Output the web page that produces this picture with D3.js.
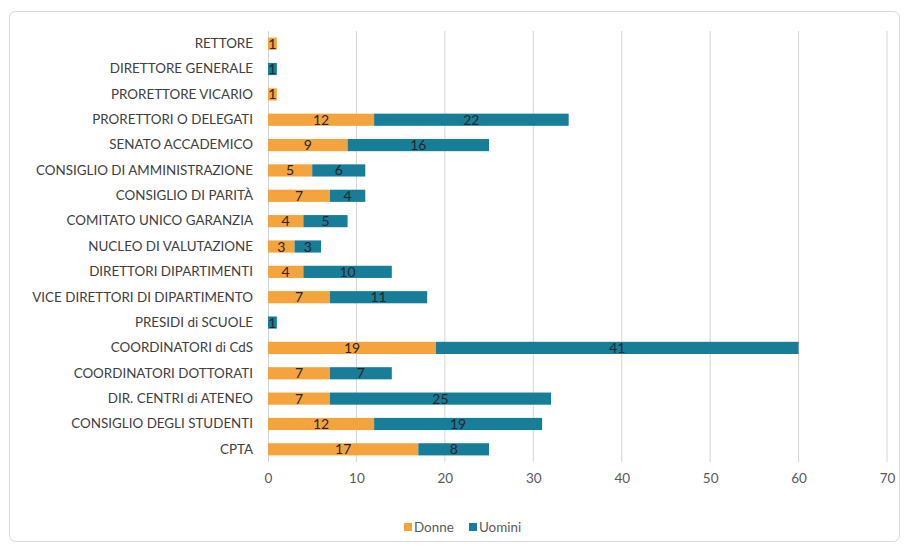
<!DOCTYPE html>
<html>
<head>
<meta charset="utf-8">
<script src="https://cdn.jsdelivr.net/npm/d3@7"></script>
<style>
  html, body { margin: 0; padding: 0; background: #fff; }
  svg { display: block; font-family: Lato, "Open Sans", sans-serif; }
</style>
</head>
<body>
<svg id="chart" width="905" height="547"></svg>
<script>
// Governance bodies, women vs men
const categories = [
  "RETTORE", "DIRETTORE GENERALE", "PRORETTORE VICARIO", "PRORETTORI O DELEGATI",
  "SENATO ACCADEMICO", "CONSIGLIO DI AMMINISTRAZIONE", "CONSIGLIO DI PARITÀ",
  "COMITATO UNICO GARANZIA", "NUCLEO DI VALUTAZIONE", "DIRETTORI DIPARTIMENTI",
  "VICE DIRETTORI DI DIPARTIMENTO", "PRESIDI di SCUOLE", "COORDINATORI di CdS",
  "COORDINATORI DOTTORATI", "DIR. CENTRI di ATENEO", "CONSIGLIO DEGLI STUDENTI", "CPTA"
];
const donne  = [1, 0, 1, 12, 9, 5, 7, 4, 3, 4, 7, 0, 19, 7, 7, 12, 17];
const uomini = [0, 1, 0, 22, 16, 6, 4, 5, 3, 10, 11, 1, 41, 7, 25, 19, 8];
const xTicks = [0, 10, 20, 30, 40, 50, 60, 70];
const seriesNames = ["Donne", "Uomini"];
const colors = ["#F5A33D", "#177D99"];

const svg = d3.select("#chart");

// outer chart frame
svg.append("rect")
  .attr("x", 9.5).attr("y", 11.5).attr("width", 890).attr("height", 530)
  .attr("rx", 6).attr("fill", "#fff").attr("stroke", "#d9d9d9");

const x = d3.scaleLinear().domain([0, 70]).range([268, 887]);
const y = d3.scaleBand().domain(categories).range([31, 462]).paddingInner(0.52).paddingOuter(0.26);

// vertical gridlines
svg.append("g").selectAll("line")
  .data(xTicks.filter(t => t > 0))
  .join("line")
  .attr("x1", d => x(d)).attr("x2", d => x(d))
  .attr("y1", 31).attr("y2", 462)
  .attr("stroke", "#d4d4d4").attr("stroke-width", 1);

// x axis tick labels
const xAxis = d3.axisBottom(x).tickValues(xTicks).tickSize(0).tickPadding(0);
const gx = svg.append("g").attr("transform", "translate(0,472)").call(xAxis);
gx.select(".domain").remove();
gx.selectAll("text")
  .attr("font-size", 13.5).attr("fill", "#595959")
  .attr("font-family", "Lato, 'Open Sans', sans-serif")
  .attr("dy", "0.85em");

// y axis
const yAxis = d3.axisLeft(y).tickSize(0).tickPadding(0);
const gy = svg.append("g").attr("transform", "translate(253,0)").call(yAxis);
gy.select(".domain").remove();
gy.selectAll("text")
  .attr("font-size", 13.4).attr("fill", "#404040")
  .attr("font-family", "Lato, 'Open Sans', sans-serif");

// baseline
svg.append("line")
  .attr("x1", x(0) + 0.5).attr("x2", x(0) + 0.5)
  .attr("y1", 31).attr("y2", 462)
  .attr("stroke", "#d4d4d4");

// stacked bars
const rows = categories.map((c, i) => ({ cat: c, vals: [donne[i], uomini[i]] }));
const segs = [];
rows.forEach(r => {
  let acc = 0;
  r.vals.forEach((v, s) => {
    if (v > 0) segs.push({ cat: r.cat, s, v, x0: acc, x1: acc + v });
    acc += v;
  });
});

const bh = y.bandwidth();
svg.append("g").selectAll("rect")
  .data(segs)
  .join("rect")
  .attr("x", d => x(d.x0))
  .attr("y", d => y(d.cat))
  .attr("width", d => x(d.x1) - x(d.x0))
  .attr("height", bh)
  .attr("fill", d => colors[d.s]);

// value labels
svg.append("g").selectAll("text")
  .data(segs)
  .join("text")
  .attr("x", d => (x(d.x0) + x(d.x1)) / 2)
  .attr("y", d => y(d.cat) + bh / 2)
  .attr("dy", "0.36em")
  .attr("text-anchor", "middle")
  .attr("font-size", 14)
  .attr("fill", "#262626")
  .text(d => d.v);

// legend
const legend = svg.append("g").attr("transform", "translate(404,527)");
const items = [{ n: seriesNames[0], c: colors[0], dx: 0 }, { n: seriesNames[1], c: colors[1], dx: 65 }];
items.forEach(it => {
  legend.append("rect").attr("x", it.dx).attr("y", -4).attr("width", 8).attr("height", 8).attr("fill", it.c);
  legend.append("text").attr("x", it.dx + 10).attr("y", 0).attr("dy", "0.36em")
    .attr("font-size", 13.4).attr("fill", "#595959").text(it.n);
});
</script>
</body>
</html>
